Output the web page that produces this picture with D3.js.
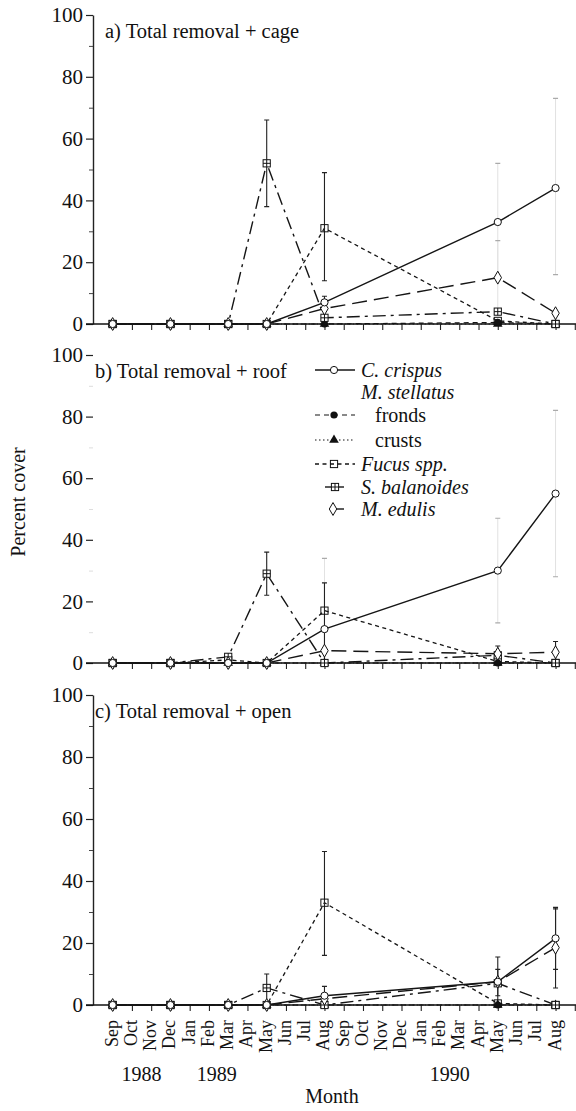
<!DOCTYPE html>
<html>
<head>
<meta charset="utf-8">
<script src="https://cdn.jsdelivr.net/npm/d3@7"></script>
<style>
  body { margin: 0; background: #fff; }
  svg { display: block; }
  text { font-family: "Liberation Serif", "Times New Roman", serif; fill: #111; }
</style>
</head>
<body>
<div id="chart"></div>
<script>
// months on the x axis, Sep 1988 .. Aug 1990
const monthLabels = ["Sep", "Oct", "Nov", "Dec", "Jan", "Feb", "Mar", "Apr", "May", "Jun", "Jul", "Aug",
  "Sep", "Oct", "Nov", "Dec", "Jan", "Feb", "Mar", "Apr", "May", "Jun", "Jul", "Aug"];
const yearLabels = ["1988", "1989", "1990"];
const yearAt = [1.5, 5.4, 17.5]; // month index under which the year sits
// sampling dates as month index: Sep88, Dec88, Mar89, May89, Aug89, May90, Aug90
const sampleMonths = [0, 3, 6, 8, 11, 20, 23];

const seriesNames = ["C. crispus", "fronds", "crusts", "Fucus spp.", "S. balanoides", "M. edulis"];
const panelTitles = ["a) Total removal + cage", "b) Total removal + roof", "c) Total removal + open"];

// percent cover, one row per series (same order as seriesNames)
const cageValues = [
  [0, 0, 0, 0, 7, 33, 44],
  [0, 0, 0, 0, 0, 0.5, 0],
  [0, 0, 0, 0, 0, 0, 0],
  [0, 0, 0, 0, 31, 1, 0],
  [0, 0, 0, 52, 2, 4, 0],
  [0, 0, 0, 0, 5, 15, 3.5]
];
const roofValues = [
  [0, 0, 0, 0, 11, 30, 55],
  [0, 0, 0, 0, 0, 0, 0],
  [0, 0, 0, 0, 0, 0, 0],
  [0, 0, 1, 0, 17, 0.5, 0],
  [0, 0, 2, 29, 0, 2.5, 0],
  [0, 0, 0, 0, 4, 3, 3.5]
];
const openValues = [
  [0, 0, 0, 0, 3, 7.5, 21.5],
  [0, 0, 0, 0, 0, 0, 0],
  [0, 0, 0, 0, 0, 0, 0],
  [0, 0, 0, 0, 33, 0.5, 0],
  [0, 0, 0, 5.5, 0, 7, 0],
  [0, 0, 0, 0, 2, 7.5, 18.5]
];

// error bars: [series, sample index, low, high]
const cageErrors = [[4, 3, 38, 66], [3, 4, 14, 49], [0, 4, 5, 9]];
const cageFaintErrors = [[0, 5, 14, 52], [5, 5, 3, 27], [0, 6, 16, 73]];
const roofErrors = [[4, 3, 22, 36], [0, 4, 0, 26], [5, 5, 0, 5.5], [5, 6, 0, 7]];
const roofFaintErrors = [[3, 4, 0, 34], [0, 5, 13, 47], [0, 6, 28, 82]];
const openErrors = [[3, 4, 16, 49.5], [4, 3, 1, 10], [0, 4, 0, 6], [0, 5, 0, 15.5],
  [5, 5, 3, 11.5], [0, 6, 11.5, 31.5], [5, 6, 5.5, 31]];
const openFaintErrors = [];

const W = 576, H = 1111;
const svg = d3.select("#chart").append("svg").attr("width", W).attr("height", H);

const x = d3.scaleLinear().domain([-1, 24]).range([93.4, 574.8]);

const styles = [
  { dash: null, marker: "circle", width: 1.4 },
  { dash: "5,4", marker: "dot", width: 1.2 },
  { dash: "1.5,2.5", marker: "triangle", width: 1.2 },
  { dash: "4,3.5", marker: "square", width: 1.3 },
  { dash: "13,5,3,5", marker: "squareCross", width: 1.4 },
  { dash: "15,7", marker: "diamond", width: 1.4 }
];
const markerOrder = [2, 1, 3, 4, 5, 0];

function drawMarker(g, type, cx, cy) {
  const s = 3.6;
  if (type === "circle") {
    g.append("circle").attr("cx", cx).attr("cy", cy).attr("r", s)
      .attr("fill", "#fff").attr("stroke", "#111").attr("stroke-width", 1);
  } else if (type === "dot") {
    g.append("circle").attr("cx", cx).attr("cy", cy).attr("r", s).attr("fill", "#111");
  } else if (type === "triangle") {
    g.append("path").attr("transform", `translate(${cx},${cy})`)
      .attr("d", d3.symbol(d3.symbolTriangle, 40)()).attr("fill", "#111");
  } else if (type === "square" || type === "squareCross") {
    g.append("rect").attr("x", cx - s).attr("y", cy - s).attr("width", 2 * s).attr("height", 2 * s)
      .attr("fill", type === "square" ? "none" : "#fff").attr("stroke", "#111").attr("stroke-width", 1);
    if (type === "squareCross") {
      g.append("path").attr("d", `M${cx - s},${cy}H${cx + s}M${cx},${cy - s}V${cy + s}`)
        .attr("stroke", "#111").attr("stroke-width", 1);
    }
  } else if (type === "diamond") {
    g.append("path").attr("transform", `translate(${cx},${cy})`)
      .attr("d", d3.symbol(d3.symbolDiamond, 48)())
      .attr("fill", "#fff").attr("stroke", "#111").attr("stroke-width", 1);
  }
}

const panels = [
  { values: cageValues, errors: cageErrors, faint: cageFaintErrors, top: 15, bottom: 324, titleX: 105, axisLine: true },
  { values: roofValues, errors: roofErrors, faint: roofFaintErrors, top: 355, bottom: 663, titleX: 95, axisLine: false },
  { values: openValues, errors: openErrors, faint: openFaintErrors, top: 695, bottom: 1005, titleX: 95, axisLine: true }
];

panels.forEach((p, pi) => {
  const g = svg.append("g");
  const y = d3.scaleLinear().domain([0, 100]).range([p.bottom, p.top]);

  // y axis, major ticks + labels
  const yAxis = g.append("g").attr("transform", `translate(93,0)`)
    .call(d3.axisLeft(y).tickValues([0, 20, 40, 60, 80, 100]).tickSize(7).tickSizeOuter(0).tickPadding(3));
  yAxis.selectAll("text").style("font-size", "21px").attr("fill", "#111");
  yAxis.selectAll("line").attr("stroke", "#222").attr("stroke-width", 1.2);
  if (p.axisLine) yAxis.select(".domain").attr("stroke", "#222").attr("stroke-width", 1.4);
  else yAxis.select(".domain").remove();

  // minor ticks
  const minor = g.append("g").attr("transform", `translate(93,0)`)
    .call(d3.axisLeft(y).tickValues([10, 30, 50, 70, 90]).tickSize(4).tickFormat(""));
  minor.select(".domain").remove();
  minor.selectAll("line").attr("stroke", p.axisLine ? "#444" : "#ddd");

  // x axis line and month ticks
  g.append("line").attr("x1", 86).attr("x2", W).attr("y1", y(0)).attr("y2", y(0))
    .attr("stroke", "#111").attr("stroke-width", 1.6);
  const xAxis = g.append("g").attr("transform", `translate(0,${y(0)})`)
    .call(d3.axisBottom(x).tickValues(d3.range(0, 25)).tickSize(6).tickFormat(""));
  xAxis.select(".domain").remove();
  xAxis.selectAll("line").attr("stroke", "#222").attr("stroke-width", 1.1);

  // title
  g.append("text").attr("x", p.titleX).attr("y", p.top + 23)
    .style("font-size", "20.5px").text(panelTitles[pi]);

  // series lines
  const line = d3.line().x((d, i) => x(sampleMonths[i])).y(d => y(d));
  p.values.forEach((vals, si) => {
    g.append("path").datum(vals).attr("d", line)
      .attr("fill", "none").attr("stroke", "#151515")
      .attr("stroke-width", styles[si].width)
      .attr("stroke-dasharray", styles[si].dash);
  });

  // error bars (faint ones are barely visible in the scan: light stem, grey caps)
  p.faint.forEach(([si, k, lo, hi]) => {
    const cx = x(sampleMonths[k]);
    g.append("path").attr("d", `M${cx},${y(lo)}V${y(hi)}`)
      .attr("stroke", "#e2e2e2").attr("stroke-width", 1);
    g.append("path").attr("d", `M${cx - 2.5},${y(hi)}H${cx + 2.5}M${cx - 2.5},${y(lo)}H${cx + 2.5}`)
      .attr("stroke", "#aaa").attr("stroke-width", 1.2);
  });
  p.errors.forEach(([si, k, lo, hi]) => {
    const cx = x(sampleMonths[k]);
    g.append("path")
      .attr("d", `M${cx},${y(lo)}V${y(hi)}M${cx - 2.5},${y(hi)}H${cx + 2.5}M${cx - 2.5},${y(lo)}H${cx + 2.5}`)
      .attr("stroke", "#222").attr("stroke-width", 1.1).attr("fill", "none");
  });

  // markers
  markerOrder.forEach(si => {
    p.values[si].forEach((v, k) => drawMarker(g, styles[si].marker, x(sampleMonths[k]), y(v)));
  });
});

// legend inside panel b
const legend = svg.append("g");
const legendRows = [
  { label: seriesNames[0], s: 0, cy: 370, italic: true, x1: 315, x2: 355, mx: 334 },
  { label: "M. stellatus", s: null, cy: 392, italic: true },
  { label: seriesNames[1], s: 1, cy: 415, italic: false, x1: 315, x2: 355, mx: 334 },
  { label: seriesNames[2], s: 2, cy: 440, italic: false, x1: 315, x2: 355, mx: 334 },
  { label: seriesNames[3], s: 3, cy: 464, italic: true, x1: 315, x2: 355, mx: 334 },
  { label: seriesNames[4], s: 4, cy: 487, italic: true, x1: 325, x2: 344, mx: 335 },
  { label: seriesNames[5], s: 5, cy: 509, italic: true, x1: 330, x2: 344, mx: 333 }
];
legendRows.forEach(r => {
  if (r.s !== null) {
    const st = styles[r.s];
    legend.append("line").attr("x1", r.x1).attr("x2", r.x2).attr("y1", r.cy).attr("y2", r.cy)
      .attr("stroke", "#151515").attr("stroke-width", st.width)
      .attr("stroke-dasharray", r.s === 4 || r.s === 5 ? null : st.dash);
    drawMarker(legend, st.marker, r.mx, r.cy);
  }
  legend.append("text").attr("x", r.italic ? 361 : 375).attr("y", r.cy + 7)
    .style("font-size", "20px").style("font-style", r.italic ? "italic" : "normal")
    .text(r.label);
});

// month labels under bottom panel
const bottomY = 1005;
svg.append("g").selectAll("text").data(monthLabels).join("text")
  .attr("transform", (d, i) => `translate(${x(i) + 5},${bottomY + 15}) rotate(-90)`)
  .attr("text-anchor", "end")
  .style("font-size", "18px")
  .text(d => d);

svg.append("g").selectAll("text").data(yearLabels).join("text")
  .attr("x", (d, i) => x(yearAt[i])).attr("y", 1081)
  .attr("text-anchor", "middle").style("font-size", "20px")
  .text(d => d);

svg.append("text").attr("x", 332).attr("y", 1103).attr("text-anchor", "middle")
  .style("font-size", "20px").text("Month");

svg.append("text").attr("transform", "translate(25,502) rotate(-90)").attr("text-anchor", "middle")
  .style("font-size", "20px").text("Percent cover");
</script>
</body>
</html>
